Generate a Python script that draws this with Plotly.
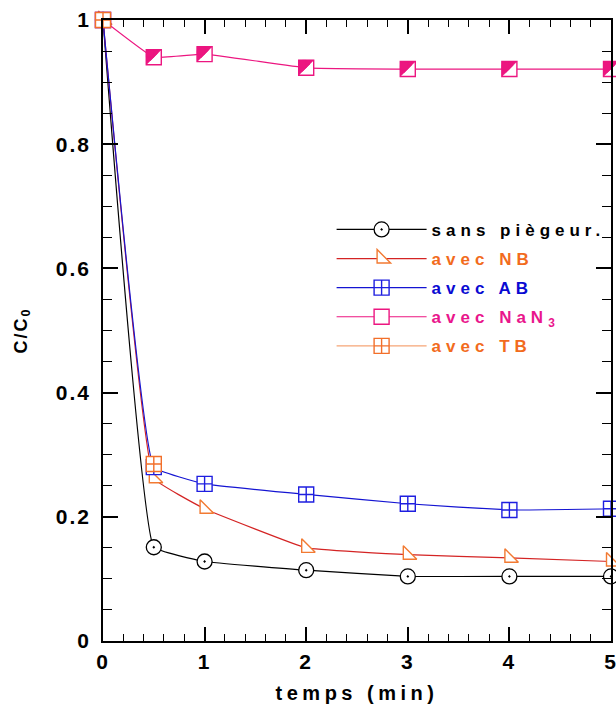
import plotly.graph_objects as go

# ---------------- data ----------------
time_min = [0, 0.5, 1, 2, 3, 4, 5]
sans_piegeur = [1.0, 0.151, 0.128, 0.114, 0.104, 0.104, 0.104]
avec_NB = [1.0, 0.262, 0.213, 0.150, 0.139, 0.134, 0.128]
avec_AB = [1.0, 0.280, 0.253, 0.236, 0.221, 0.211, 0.213]
avec_NaN3 = [1.0, 0.940, 0.945, 0.923, 0.921, 0.921, 0.921]
time_TB = [0, 0.5]
avec_TB = [1.0, 0.285]

series_names = ["sans piègeur.", "avec NB", "avec AB", "avec NaN<sub>3</sub>", "avec TB"]
x_tickvals = [0, 1, 2, 3, 4, 5]
x_ticklabels = ["0", "1", "2", "3", "4", "5"]
y_tickvals = [0, 0.2, 0.4, 0.6, 0.8, 1]
y_ticklabels = ["0", "0.2", "0.4", "0.6", "0.8", "1"]
x_title = "temps (min)"
y_title = "C/C<sub>0</sub>"

# ---------------- style ----------------
FONT = "Liberation Sans, Arial, sans-serif"
BLACK = "#000000"
NB_LINE, NB_MARK, NB_TEXT = "#d42424", "#f27a32", "#f26b1d"
AB_LINE, AB_MARK, AB_TEXT = "#1414d2", "#1e1ee0", "#0a0ad2"
NA_COL, NA_TEXT = "#ec1680", "#e9168c"
TB_LINE, TB_MARK, TB_TEXT = "#f6a576", "#f26f2a", "#f26b1d"
SMOOTH = 0.25


def spaced(txt, color, sp=4):
    return f'<span style="letter-spacing:{sp}px;color:{color}">{txt}</span>'


legend_colors = [BLACK, NB_TEXT, AB_TEXT, NA_TEXT, TB_TEXT]
legend_labels = [spaced(n, c, 5) for n, c in zip(series_names, legend_colors)]

fig = go.Figure()
common = dict(mode="lines+markers", cliponaxis=False)

fig.add_trace(go.Scatter(
    x=time_min, y=sans_piegeur, name=legend_labels[0], legendgroup="g0",
    line=dict(color=BLACK, width=1.2, shape="spline", smoothing=SMOOTH),
    marker=dict(symbol="circle-dot", size=15, color="white",
                line=dict(color=BLACK, width=1.3)), **common))

fig.add_trace(go.Scatter(
    x=time_min, y=avec_NB, name=legend_labels[1], legendgroup="g1",
    line=dict(color=NB_LINE, width=1.2, shape="spline", smoothing=SMOOTH),
    marker=dict(symbol="triangle-sw", size=15, color="white",
                line=dict(color=NB_MARK, width=1.4)), **common))

fig.add_trace(go.Scatter(
    x=time_min, y=avec_AB, name=legend_labels[2], legendgroup="g2",
    line=dict(color=AB_LINE, width=1.2, shape="spline", smoothing=SMOOTH),
    marker=dict(symbol="square-cross", size=15, color="white",
                line=dict(color=AB_MARK, width=1.4)), **common))

# NaN3: white square with the upper-left half filled
SQ = 15.0
H = SQ / 2
fig.add_trace(go.Scatter(
    x=time_min, y=avec_NaN3, name=legend_labels[3], legendgroup="g3",
    line=dict(color=NA_COL, width=1.2, shape="spline", smoothing=SMOOTH),
    marker=dict(symbol="square", size=SQ, color="white",
                line=dict(color=NA_COL, width=1.4)), **common))
tri_r = H / 1.2
tri_off = H - 0.6 * tri_r
dia_r = (H / 2) / (1.3 / 2 ** 0.5)
half_fill = [
    ("triangle-se", 180, 2 * tri_r, tri_off),
    ("triangle-sw", 90, 2 * tri_r, tri_off),
    ("diamond", 135, 2 * dia_r, (H / 2) * 2 ** 0.5),
]
for sym, ang, sz, so in half_fill:
    fig.add_trace(go.Scatter(
        x=time_min, y=avec_NaN3, mode="markers", showlegend=False,
        cliponaxis=False, hoverinfo="skip",
        marker=dict(symbol=sym, size=sz, angle=ang, standoff=so,
                    color=NA_COL, line=dict(color=NA_COL, width=0.4))))

# TB: markers on the chart (its line is hidden under the others), legend proxy
fig.add_trace(go.Scatter(
    x=[None], y=[None], name=legend_labels[4], legendgroup="g4",
    mode="lines+markers",
    line=dict(color=TB_LINE, width=1.4),
    marker=dict(symbol="square-cross", size=15, color="white",
                line=dict(color=TB_MARK, width=1.4))))
fig.add_trace(go.Scatter(
    x=time_TB, y=avec_TB, mode="markers", showlegend=False, cliponaxis=False,
    marker=dict(symbol="square-cross", size=15, color="white",
                line=dict(color=TB_MARK, width=1.4))))

axis_common = dict(
    showline=True, linecolor=BLACK, linewidth=1.5, mirror="allticks",
    ticks="inside", tickwidth=1.5, tickcolor=BLACK,
    showgrid=False, zeroline=False, automargin=False,
    ticklabeloverflow="allow",
    tickfont=dict(family=FONT, size=21, color=BLACK, weight="bold"),
)

fig.update_xaxes(
    range=[0, 5], tickmode="array", tickvals=x_tickvals,
    ticktext=[spaced(t, BLACK, 2) for t in x_ticklabels],
    ticklen=14, ticklabelstandoff=1,
    minor=dict(dtick=0.2, ticks="inside", ticklen=7, tickwidth=1.2, tickcolor=BLACK),
    title=dict(text=spaced(x_title, BLACK, 4.5), standoff=14,
               font=dict(family=FONT, size=20, color=BLACK, weight="bold")),
    **axis_common)

fig.update_yaxes(
    range=[0, 1], tickmode="array", tickvals=y_tickvals,
    ticktext=[spaced(t, BLACK, 2) for t in y_ticklabels],
    ticklen=15, ticklabelstandoff=6,
    minor=dict(dtick=0.05, ticks="inside", ticklen=9, tickwidth=1.2, tickcolor=BLACK),
    title=dict(text=spaced(y_title, BLACK, 2), standoff=24,
               font=dict(family=FONT, size=18, color=BLACK, weight="bold")),
    **axis_common)

fig.update_layout(
    width=616, height=713,
    margin=dict(l=103, r=5, t=20, b=72),
    paper_bgcolor="white", plot_bgcolor="white",
    font=dict(family=FONT, size=17, color=BLACK, weight="bold"),
    legend=dict(
        x=0.45, y=0.691, xanchor="left", yanchor="top",
        bgcolor="rgba(0,0,0,0)", borderwidth=0,
        tracegroupgap=4, itemwidth=90,
        font=dict(family=FONT, size=17, weight="bold"),
    ),
    showlegend=True,
)

fig.write_html(
    "out.html",
    config={"displayModeBar": False},
    post_script="document.body.style.margin='0';"
                "document.documentElement.style.overflow='hidden';",
)
